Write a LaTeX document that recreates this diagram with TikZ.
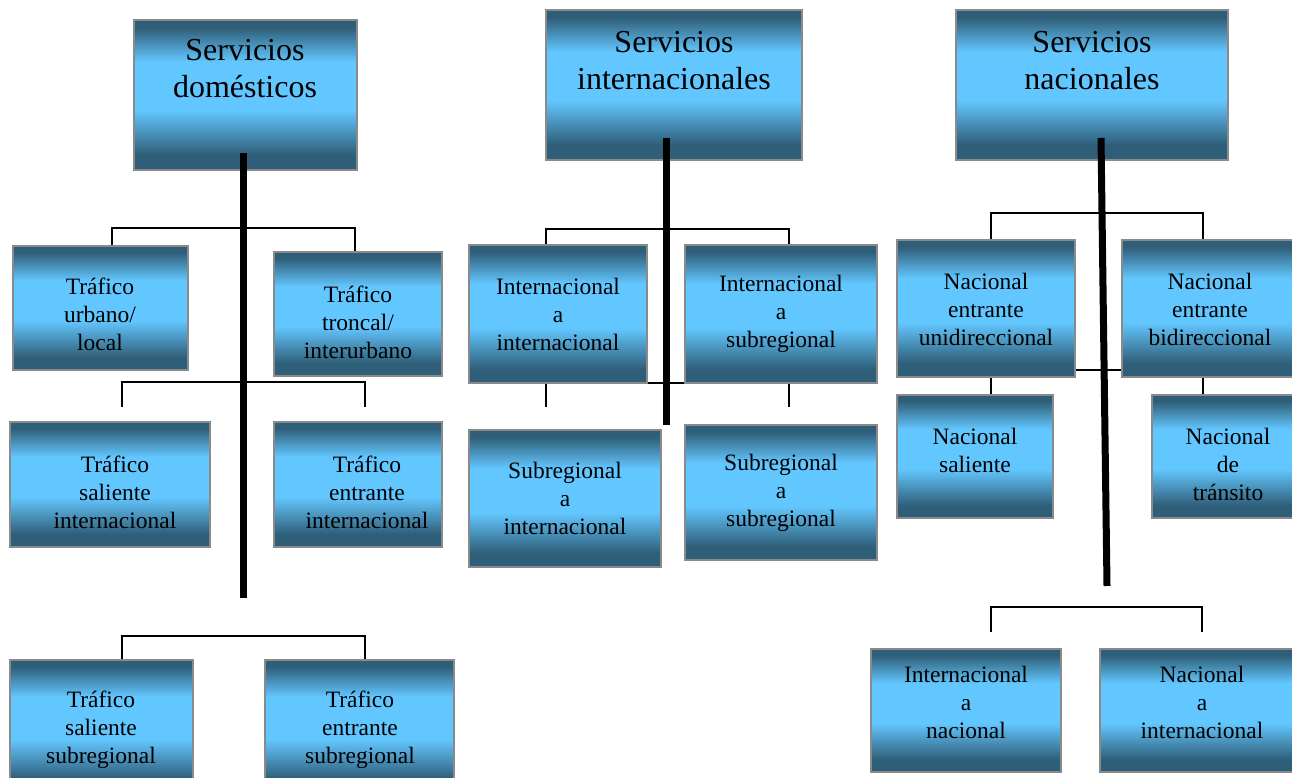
\documentclass[tikz,border=0pt]{standalone}
\usepackage{fontspec}
\setmainfont{Liberation Serif}
\usetikzlibrary{fit}

\definecolor{boxdark}{RGB}{47,94,120}
\definecolor{boxlight}{RGB}{99,199,255}
\definecolor{boxedge}{RGB}{138,138,138}

% the path is mapped onto 25bp..75bp of the shading (listed bottom to top):
% dark bands at top and bottom, light band across the middle
\pgfdeclareverticalshading{boxshade}{100bp}{%
  color(0bp)=(boxdark); color(25bp)=(boxdark); color(30bp)=(boxdark);
  color(45bp)=(boxlight); color(61bp)=(boxlight); color(72.5bp)=(boxdark);
  color(75bp)=(boxdark); color(100bp)=(boxdark)}

\tikzset{
  tbox/.style={draw=boxedge, line width=1.6pt, shading=boxshade, inner sep=0pt, rectangle},
  lbl/.style={align=center, inner sep=0pt, font=\fontsize{23.5}{28}\selectfont},
  biglbl/.style={align=center, inner sep=0pt, font=\fontsize{32}{37}\selectfont},
  conn/.style={draw=black, line width=2pt},
  trunk/.style={draw=black, line width=7pt},
}

% box from corner (x1,y1) to corner (x2,y2)
\newcommand\mkbox[5]{\node[tbox, fit={(#2,#3) (#4,#5)}] (#1) {};}

\begin{document}
\begin{tikzpicture}[x=1pt, y=-1pt]
\useasboundingbox (0,0) rectangle (1292,778);

% connectors that run behind boxes
\coordinate (ibL) at (546,407);
\coordinate (ibR) at (789,407);
\draw[conn] (ibL) -- (546,383) -- (789,383) -- (ibR);

% ---------- boxes ----------
\mkbox{dom}{134}{20}{357}{170}
\mkbox{intl}{546}{10}{802}{160}
\mkbox{nac}{956}{10}{1228}{160}

\mkbox{urb}{13}{246}{188}{370}
\mkbox{tro}{274}{252}{442}{376}
\mkbox{tsi}{10}{422}{210}{547}
\mkbox{tei}{274}{422}{442}{547}
\mkbox{tss}{10}{660}{193}{792}
\mkbox{tes}{265}{660}{454}{792}

\mkbox{ii}{469}{245}{647}{383}
\mkbox{is}{685}{245}{877}{383}
\mkbox{si}{469}{430}{661}{567}
\mkbox{ss}{685}{425}{877}{560}

\mkbox{ns}{897}{395}{1053}{518}
\mkbox{nt}{1152}{395}{1302}{518}
\draw[conn] (ns.north -| 991,0) -- (991,370) -- (1122,370);
\draw[conn] (nt.north -| 1203,0) -- (1203,377);
\mkbox{neu}{897}{240}{1075}{377}
\mkbox{neb}{1122}{240}{1302}{377}
\mkbox{ian}{871}{649}{1061}{772}
\mkbox{nai}{1100}{649}{1302}{772}

% ---------- labels ----------
\node[biglbl] (dom-t) at (245,69) {Servicios\\domésticos};
\node[biglbl] (intl-t) at (674,61) {Servicios\\internacionales};
\node[biglbl] (nac-t) at (1092,61) {Servicios\\nacionales};

\node[lbl] (urb-t) at (100,314) {Tráfico\\urbano/\\local};
\node[lbl] (tro-t) at (358,322) {Tráfico\\troncal/\\interurbano};
\node[lbl] (tsi-t) at (115,492) {Tráfico\\saliente\\internacional};
\node[lbl] (tei-t) at (367,492) {Tráfico\\entrante\\internacional};
\node[lbl] (tss-t) at (101,730) {Tráfico\\saliente\\subregional};
\node[lbl] (tes-t) at (360,730) {Tráfico\\entrante\\subregional};

\node[lbl] (ii-t) at (558,314) {Internacional\\a\\internacional};
\node[lbl] (is-t) at (781,314) {Internacional\\a\\subregional};
\node[lbl] (si-t) at (565,498) {Subregional\\a\\internacional};
\node[lbl] (ss-t) at (781,493) {Subregional\\a\\subregional};

\node[lbl] (neu-t) at (986,309) {Nacional\\entrante\\unidireccional};
\node[lbl] (neb-t) at (1210,309) {Nacional\\entrante\\bidireccional};
\node[lbl] (ns-t) at (975,450) {Nacional\\saliente};
\node[lbl] (nt-t) at (1228,464) {Nacional\\de\\tránsito};
\node[lbl] (ian-t) at (966,702) {Internacional\\a\\nacional};
\node[lbl] (nai-t) at (1202,702) {Nacional\\a\\internacional};

% ---------- brackets ----------
\draw[conn] (urb.north -| 112,0) -- (112,228) -- (355,228) -- (tro.north -| 355,0);
\coordinate (dbL) at (122,407);
\coordinate (dbR) at (365,407);
\draw[conn] (dbL) -- (122,382) -- (365,382) -- (dbR);
\draw[conn] (tss.north -| 122,0) -- (122,636) -- (365,636) -- (tes.north -| 365,0);

\draw[conn] (ii.north -| 546,0) -- (546,229) -- (789,229) -- (is.north -| 789,0);

\draw[conn] (neu.north -| 991,0) -- (991,213) -- (1203,213) -- (neb.north -| 1203,0);
\coordinate (nbL) at (991,632);
\coordinate (nbR) at (1202,632);
\draw[conn] (nbL) -- (991,607) -- (1202,607) -- (nbR);

% ---------- trunks ----------
\coordinate (domEnd) at (243,598);
\coordinate (intlEnd) at (666,425);
\coordinate (nacEnd) at (1107,586);
\draw[trunk] (dom.south -| 243,0) ++(0,-18) -- (domEnd);
\draw[trunk] (intl.south -| 666,0) ++(0,-23) -- (intlEnd);
\draw[trunk] (nac.south -| 1101,0) ++(0,-23) -- (nacEnd);
\end{tikzpicture}
\end{document}
